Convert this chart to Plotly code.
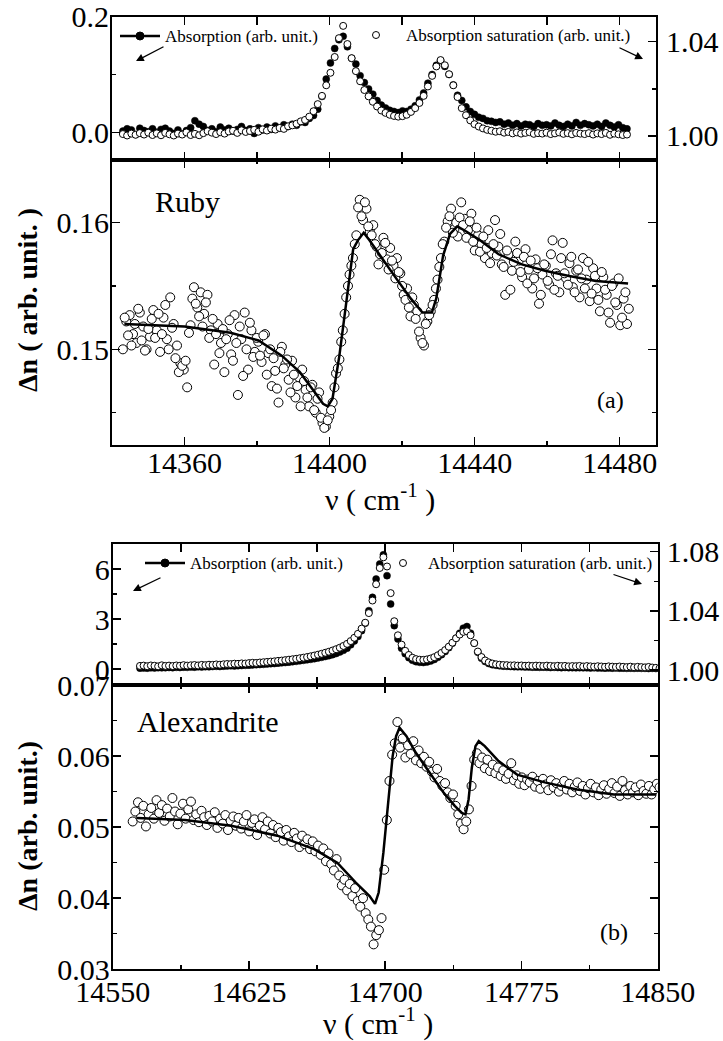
import numpy as np
import plotly.graph_objects as go

OFF = 0  # page body margin is removed by the post script below
W, H = 723, 1041
FONT = "Liberation Serif"

# ---------------- Panel (a) Ruby ----------------
# top: absorption (left axis) and absorption saturation (right axis)
nu_a_top = np.linspace(14343, 14482, 120)
abs_a = [0.002, 0.006, 0.004, -0.004, 0.007, 0.003, 0.001, 0.006, 0.000, 0.005,
         0.007, 0.002, -0.002, 0.004, -0.003, 0.003, 0.008, 0.020, 0.014, 0.010,
         0.003, 0.006, 0.001, 0.009, 0.004, 0.007, 0.002, 0.005, 0.010, 0.003,
         0.006, -0.002, 0.008, 0.004, 0.009, 0.005, 0.011, 0.007, 0.013, 0.010,
         0.014, 0.012, 0.018, 0.017, 0.024, 0.029, 0.040, 0.062, 0.092, 0.120,
         0.145, 0.160, 0.166, 0.148, 0.128, 0.118, 0.098, 0.086, 0.075, 0.066,
         0.055, 0.047, 0.042, 0.038, 0.036, 0.034, 0.037, 0.036, 0.040, 0.046,
         0.056, 0.068, 0.085, 0.100, 0.116, 0.124, 0.114, 0.100, 0.082, 0.064,
         0.055, 0.044, 0.036, 0.031, 0.026, 0.024, 0.020, 0.019, 0.017, 0.018,
         0.014, 0.016, 0.012, 0.015, 0.011, 0.014, 0.013, 0.010, 0.015, 0.012,
         0.013, 0.011, 0.016, 0.012, 0.010, 0.014, 0.011, 0.017, 0.012, 0.015,
         0.013, 0.011, 0.014, 0.010, 0.016, 0.012, 0.009, 0.013, 0.008, 0.006]
sat_a = [1.0008, 1.0002, 1.0010, 1.0005, 1.0012, 1.0006, 1.0014, 1.0004, 1.0011, 1.0003,
         1.0013, 1.0007, 1.0002, 1.0010, 1.0006, 1.0015, 1.0004, 1.0009, 1.0003, 1.0012,
         1.0020, 1.0014, 1.0008, 1.0016, 1.0010, 1.0019, 1.0022, 1.0013, 1.0024, 1.0017,
         1.0021, 1.0026, 1.0018, 1.0028, 1.0023, 1.0031, 1.0027, 1.0034, 1.0030, 1.0041,
         1.0045, 1.0052, 1.0062, 1.0068, 1.0082, 1.0105, 1.0135, 1.0170, 1.0215, 1.0268,
         1.0335, 1.0415, 1.0467, 1.0390, 1.0330, 1.0275, 1.0232, 1.0195, 1.0168, 1.0145,
         1.0125, 1.0108, 1.0098, 1.0090, 1.0085, 1.0082, 1.0084, 1.0090, 1.0102, 1.0118,
         1.0140, 1.0170, 1.0210, 1.0255, 1.0295, 1.0322, 1.0300, 1.0262, 1.0215, 1.0165,
         1.0118, 1.0088, 1.0066, 1.0050, 1.0040, 1.0032, 1.0026, 1.0022, 1.0018, 1.0020,
         1.0014, 1.0017, 1.0011, 1.0015, 1.0010, 1.0013, 1.0016, 1.0009, 1.0012, 1.0010,
         1.0014, 1.0008, 1.0011, 1.0015, 1.0009, 1.0012, 1.0007, 1.0013, 1.0010, 1.0008,
         1.0012, 1.0006, 1.0011, 1.0008, 1.0013, 1.0005, 1.0010, 1.0007, 1.0004, 1.0006]

# bottom: delta n data (two interleaved sample sets) and fit
nu_a = np.linspace(14343, 14482, 150)
dn_a = [0.1500, 0.1522, 0.1527, 0.1512, 0.1505, 0.1529, 0.1518, 0.1500, 0.1510, 0.1531,
        0.1515, 0.1498, 0.1525, 0.1508, 0.1541, 0.1520, 0.1503, 0.1489, 0.1484, 0.1470,
        0.1519, 0.1549, 0.1533, 0.1545, 0.1528, 0.1543, 0.1515, 0.1488, 0.1520, 0.1505,
        0.1482, 0.1512, 0.1496, 0.1527, 0.1464, 0.1508, 0.1529, 0.1484, 0.1515, 0.1498,
        0.1506, 0.1490, 0.1512, 0.1497, 0.1471, 0.1483, 0.1458, 0.1502, 0.1488, 0.1476,
        0.1491, 0.1462, 0.1478, 0.1484, 0.1468, 0.1455, 0.1472, 0.1450, 0.1466, 0.1442,
        0.1439, 0.1447, 0.1458, 0.1481, 0.1492, 0.1515, 0.1541, 0.1559, 0.1572, 0.1590,
        0.1618, 0.1602, 0.1611, 0.1593, 0.1598, 0.1581, 0.1575, 0.1588, 0.1571, 0.1580,
        0.1566, 0.1572, 0.1560, 0.1543, 0.1548, 0.1526, 0.1535, 0.1530, 0.1509, 0.1503,
        0.1522, 0.1530, 0.1539, 0.1555, 0.1572, 0.1585, 0.1601, 0.1611, 0.1595, 0.1589,
        0.1616, 0.1603, 0.1594, 0.1607, 0.1578, 0.1590, 0.1583, 0.1572, 0.1594, 0.1576,
        0.1602, 0.1581, 0.1567, 0.1543, 0.1575, 0.1562, 0.1585, 0.1570, 0.1557, 0.1579,
        0.1563, 0.1548, 0.1571, 0.1536, 0.1559, 0.1566, 0.1551, 0.1586, 0.1560, 0.1545,
        0.1584, 0.1556, 0.1568, 0.1549, 0.1562, 0.1541, 0.1572, 0.1555, 0.1538, 0.1564,
        0.1548, 0.1530, 0.1557, 0.1543, 0.1521, 0.1552, 0.1535, 0.1519, 0.1540, 0.1520]
nu_a2 = np.linspace(14343.5, 14482.5, 150)
dn_a2 = [0.1525, 0.1511, 0.1503, 0.1520, 0.1532, 0.1507, 0.1499, 0.1516, 0.1524, 0.1509,
         0.1528, 0.1512, 0.1535, 0.1500, 0.1517, 0.1493, 0.1482, 0.1487, 0.1491, 0.1513,
         0.1540, 0.1536, 0.1526, 0.1518, 0.1537, 0.1509, 0.1524, 0.1512, 0.1497, 0.1516,
         0.1508, 0.1523, 0.1491, 0.1505, 0.1518, 0.1479, 0.1500, 0.1521, 0.1494, 0.1509,
         0.1495, 0.1511, 0.1480, 0.1500, 0.1493, 0.1469, 0.1498, 0.1485, 0.1492, 0.1466,
         0.1480, 0.1471, 0.1455, 0.1475, 0.1462, 0.1470, 0.1452, 0.1461, 0.1446, 0.1438,
         0.1444, 0.1452, 0.1470, 0.1485, 0.1506, 0.1528, 0.1550, 0.1566, 0.1583, 0.1612,
         0.1605, 0.1616, 0.1597, 0.1590, 0.1583, 0.1567, 0.1576, 0.1584, 0.1563, 0.1570,
         0.1556, 0.1561, 0.1550, 0.1539, 0.1533, 0.1541, 0.1524, 0.1514, 0.1505, 0.1520,
         0.1527, 0.1535, 0.1548, 0.1565, 0.1583, 0.1596, 0.1605, 0.1592, 0.1600, 0.1604,
         0.1598, 0.1588, 0.1601, 0.1585, 0.1596, 0.1577, 0.1589, 0.1580, 0.1568, 0.1583,
         0.1574, 0.1591, 0.1565, 0.1578, 0.1547, 0.1569, 0.1576, 0.1561, 0.1573, 0.1552,
         0.1570, 0.1556, 0.1564, 0.1543, 0.1567, 0.1554, 0.1575, 0.1547, 0.1558, 0.1572,
         0.1560, 0.1551, 0.1573, 0.1545, 0.1563, 0.1556, 0.1548, 0.1569, 0.1544, 0.1558,
         0.1539, 0.1561, 0.1547, 0.1529, 0.1550, 0.1537, 0.1556, 0.1525, 0.1545, 0.1532]
fit_a_x = [14343.4, 14360.0, 14372.7, 14380.4, 14386.8, 14391.8, 14395.7, 14398.2, 14399.5,
           14400.8, 14402.7, 14404.6, 14406.5, 14407.8, 14409.4, 14411.0, 14414.8, 14418.6,
           14422.4, 14425.6, 14428.2, 14429.4, 14431.3, 14433.2, 14435.2, 14437.7, 14441.5,
           14446.6, 14453.0, 14459.4, 14465.7, 14473.4, 14482.3]
fit_a_y = [0.1520, 0.1518, 0.1513, 0.1507, 0.1495, 0.1482, 0.1467, 0.1457, 0.1455,
           0.1461, 0.1495, 0.1537, 0.1579, 0.1586, 0.1592, 0.1586, 0.1570, 0.1555,
           0.1540, 0.1529, 0.1529, 0.1540, 0.1574, 0.1591, 0.1597, 0.1593, 0.1586,
           0.1575, 0.1567, 0.1562, 0.1558, 0.1554, 0.1552]

# ---------------- Panel (b) Alexandrite ----------------
nu_b_top = np.linspace(14565, 14851, 144)
abs_b = [0.05, 0.06, 0.05, 0.07, 0.06, 0.08, 0.07, 0.08, 0.09, 0.08,
         0.10, 0.09, 0.11, 0.10, 0.12, 0.11, 0.13, 0.12, 0.14, 0.13,
         0.15, 0.16, 0.15, 0.17, 0.18, 0.19, 0.18, 0.20, 0.21, 0.22,
         0.23, 0.24, 0.26, 0.27, 0.28, 0.30, 0.32, 0.33, 0.35, 0.37,
         0.39, 0.41, 0.44, 0.46, 0.49, 0.52, 0.55, 0.58, 0.62, 0.66,
         0.70, 0.75, 0.80, 0.86, 0.93, 1.02, 1.12, 1.25, 1.45, 1.68,
         1.95, 2.30, 2.75, 3.50, 4.30, 5.40, 6.30, 6.85, 5.60, 3.90,
         2.60, 1.80, 1.25, 0.92, 0.68, 0.52, 0.44, 0.40, 0.39, 0.42,
         0.48, 0.57, 0.70, 0.86, 1.05, 1.28, 1.55, 1.85, 2.15, 2.45,
         2.55, 2.15, 1.55, 1.00, 0.65, 0.45, 0.33, 0.26, 0.22, 0.19,
         0.17, 0.16, 0.15, 0.14, 0.13, 0.13, 0.12, 0.12, 0.11, 0.11,
         0.10, 0.11, 0.10, 0.09, 0.10, 0.09, 0.08, 0.09, 0.08, 0.08,
         0.07, 0.08, 0.07, 0.07, 0.06, 0.07, 0.06, 0.06, 0.05, 0.06,
         0.05, 0.06, 0.05, 0.05, 0.04, 0.05, 0.04, 0.05, 0.04, 0.04,
         0.03, 0.04, 0.03, 0.03]
sat_b = [1.0028, 1.0030, 1.0026, 1.0031, 1.0029, 1.0025, 1.0032, 1.0028, 1.0030, 1.0027,
         1.0031, 1.0029, 1.0033, 1.0030, 1.0032, 1.0034, 1.0031, 1.0035, 1.0033, 1.0036,
         1.0035, 1.0038, 1.0036, 1.0039, 1.0041, 1.0040, 1.0043, 1.0042, 1.0045, 1.0044,
         1.0047, 1.0049, 1.0048, 1.0051, 1.0053, 1.0055, 1.0057, 1.0059, 1.0062, 1.0064,
         1.0067, 1.0070, 1.0073, 1.0076, 1.0080, 1.0084, 1.0088, 1.0093, 1.0098, 1.0104,
         1.0110, 1.0117, 1.0124, 1.0132, 1.0141, 1.0151, 1.0163, 1.0177, 1.0196, 1.0218,
         1.0245, 1.0280, 1.0320, 1.0385, 1.0470, 1.0580, 1.0690, 1.0762, 1.0700, 1.0520,
         1.0330, 1.0235, 1.0172, 1.0130, 1.0102, 1.0083, 1.0074, 1.0070, 1.0069, 1.0072,
         1.0078, 1.0087, 1.0100, 1.0116, 1.0135, 1.0158, 1.0185, 1.0215, 1.0240, 1.0258,
         1.0262, 1.0235, 1.0182, 1.0125, 1.0088, 1.0065, 1.0052, 1.0044, 1.0039, 1.0036,
         1.0034, 1.0033, 1.0031, 1.0032, 1.0030, 1.0031, 1.0029, 1.0030, 1.0028, 1.0030,
         1.0029, 1.0027, 1.0030, 1.0028, 1.0026, 1.0029, 1.0027, 1.0028, 1.0025, 1.0027,
         1.0026, 1.0028, 1.0024, 1.0027, 1.0025, 1.0023, 1.0026, 1.0024, 1.0022, 1.0025,
         1.0023, 1.0021, 1.0024, 1.0022, 1.0020, 1.0023, 1.0019, 1.0022, 1.0020, 1.0018,
         1.0021, 1.0017, 1.0015, 1.0012]

nu_b = np.linspace(14561, 14851, 200)
dn_b = [0.0508, 0.0522, 0.0535, 0.0513, 0.0530, 0.0501, 0.0518, 0.0527, 0.0512, 0.0538,
        0.0520, 0.0531, 0.0509, 0.0526, 0.0515, 0.0541, 0.0522, 0.0504, 0.0519, 0.0533,
        0.0512, 0.0525, 0.0536, 0.0510, 0.0518, 0.0507, 0.0523, 0.0514, 0.0503, 0.0516,
        0.0508, 0.0521, 0.0499, 0.0512, 0.0505, 0.0517, 0.0496, 0.0509, 0.0515, 0.0502,
        0.0513, 0.0498, 0.0508, 0.0517, 0.0494, 0.0506, 0.0511, 0.0489, 0.0502, 0.0514,
        0.0497, 0.0508, 0.0491, 0.0503, 0.0486, 0.0499, 0.0493, 0.0481, 0.0496, 0.0487,
        0.0479, 0.0492, 0.0484, 0.0472, 0.0488, 0.0476, 0.0483, 0.0469, 0.0480, 0.0466,
        0.0474, 0.0461, 0.0470, 0.0452, 0.0463, 0.0448, 0.0439, 0.0455, 0.0432, 0.0418,
        0.0426, 0.0411, 0.0420, 0.0403, 0.0414, 0.0396, 0.0388, 0.0400, 0.0379, 0.0370,
        0.0360, 0.0335, 0.0348, 0.0355, 0.0372, 0.0440, 0.0510, 0.0565, 0.0602, 0.0618,
        0.0648, 0.0612, 0.0625, 0.0598, 0.0615, 0.0603, 0.0621, 0.0594, 0.0608, 0.0590,
        0.0599, 0.0585, 0.0592, 0.0578, 0.0570, 0.0582, 0.0565, 0.0558, 0.0562, 0.0549,
        0.0541, 0.0546, 0.0530, 0.0518, 0.0505, 0.0497, 0.0508, 0.0525, 0.0558, 0.0595,
        0.0604, 0.0590, 0.0598, 0.0583, 0.0595, 0.0579, 0.0588, 0.0576, 0.0584, 0.0572,
        0.0580, 0.0568, 0.0575, 0.0590, 0.0566, 0.0573, 0.0561, 0.0570, 0.0559, 0.0567,
        0.0563, 0.0571, 0.0557, 0.0565, 0.0554, 0.0568, 0.0560, 0.0552, 0.0566, 0.0556,
        0.0562, 0.0550, 0.0558, 0.0565, 0.0553, 0.0561, 0.0549, 0.0557, 0.0563, 0.0551,
        0.0558, 0.0546, 0.0555, 0.0561, 0.0549, 0.0556, 0.0545, 0.0553, 0.0559, 0.0547,
        0.0554, 0.0562, 0.0548, 0.0557, 0.0544, 0.0565, 0.0552, 0.0546, 0.0558, 0.0549,
        0.0556, 0.0545, 0.0560, 0.0551, 0.0547, 0.0558, 0.0546, 0.0553, 0.0561, 0.0556]
fit_b_x = [14563.2, 14589.8, 14615.2, 14640.6, 14660.9, 14673.6, 14683.8, 14691.4, 14694.4,
           14696.4, 14699.0, 14701.5, 14704.1, 14706.0, 14707.9, 14711.7, 14716.8, 14724.4,
           14732.0, 14738.3, 14742.1, 14744.2, 14745.9, 14747.7, 14749.7, 14751.5, 14754.8,
           14762.4, 14772.6, 14787.8, 14805.6, 14825.9, 14849.0]
fit_b_y = [0.0513, 0.0510, 0.0502, 0.0488, 0.0469, 0.0450, 0.0422, 0.0403, 0.0392,
           0.0408, 0.0464, 0.0530, 0.0600, 0.0628, 0.0640, 0.0628, 0.0605, 0.0577,
           0.0549, 0.0530, 0.0520, 0.0518, 0.0539, 0.0584, 0.0614, 0.0621, 0.0614,
           0.0593, 0.0574, 0.0563, 0.0553, 0.0546, 0.0546]


def px(x):
    return (x - OFF) / W


def py(y):
    return 1 - (y - OFF) / H


fig = go.Figure()

filled = dict(symbol="circle", size=7, color="black", line=dict(color="black", width=0.5))
opened = dict(symbol="circle", size=7, color="white", line=dict(color="black", width=1))
opened_big = dict(symbol="circle", size=9, color="white", line=dict(color="black", width=1))

fig.add_trace(go.Scatter(x=nu_a_top, y=abs_a, mode="markers", marker=filled, xaxis="x", yaxis="y"))
fig.add_trace(go.Scatter(x=nu_a_top, y=sat_a, mode="markers", marker=opened, xaxis="x", yaxis="y2"))
fig.add_trace(go.Scatter(x=nu_a, y=dn_a, mode="markers", marker=opened_big, xaxis="x2", yaxis="y3"))
fig.add_trace(go.Scatter(x=nu_a2, y=dn_a2, mode="markers", marker=opened_big, xaxis="x2", yaxis="y3"))
fig.add_trace(go.Scatter(x=fit_a_x, y=fit_a_y, mode="lines", line=dict(color="black", width=2.5),
                         xaxis="x2", yaxis="y3"))
fig.add_trace(go.Scatter(x=nu_b_top, y=abs_b, mode="markers", marker=filled, xaxis="x3", yaxis="y4"))
fig.add_trace(go.Scatter(x=nu_b_top, y=sat_b, mode="markers", marker=opened, xaxis="x3", yaxis="y5"))
fig.add_trace(go.Scatter(x=nu_b, y=dn_b, mode="markers", marker=opened_big, xaxis="x4", yaxis="y6"))
fig.add_trace(go.Scatter(x=fit_b_x, y=fit_b_y, mode="lines", line=dict(color="black", width=2.5),
                         xaxis="x4", yaxis="y6"))

tickfont = dict(family=FONT, size=30, color="black")


def axis(**kw):
    base = dict(showline=True, linecolor="black", linewidth=2, ticks="inside", ticklen=8,
                tickwidth=1.5, tickcolor="black", showgrid=False, zeroline=False,
                tickfont=tickfont, ticklabelstandoff=0, automargin=False,
                ticklabeloverflow="allow")
    base.update(kw)
    return base


def minor(d, t0):
    return dict(dtick=d, tick0=t0, ticks="inside", ticklen=4, tickwidth=1.5, tickcolor="black",
                showgrid=False)


xa_dom = [px(112), px(656)]
xb_dom = [px(112.7), px(657.7)]

layout = dict(
    width=W, height=H, margin=dict(l=0, r=0, t=0, b=0, autoexpand=False),
    paper_bgcolor="white", plot_bgcolor="white", showlegend=False,
    font=dict(family=FONT, color="black"),
    # panel a top
    xaxis=axis(domain=xa_dom, anchor="y", range=[14340, 14490], tick0=14360, dtick=40,
               minor=minor(20, 14340), mirror="allticks", showticklabels=False, tickformat="d"),
    yaxis=axis(domain=[py(160), py(16.7)], anchor="x", range=[-0.048, 0.20001],
               tick0=0, dtick=0.2, tickformat=".1f", minor=minor(0.1, 0), ticklabelstandoff=-5),
    yaxis2=axis(overlaying="y", anchor="x", side="right", range=[0.9898, 1.0506],
                tick0=1.0, dtick=0.04, tickformat=".2f", minor=minor(0.02, 1.0), ticklabelstandoff=2),
    # panel a bottom
    xaxis2=axis(domain=xa_dom, anchor="y3", range=[14340, 14490], tick0=14360, dtick=40,
                minor=minor(20, 14340), mirror="allticks", ticklabelstandoff=-10, tickformat="d"),
    yaxis3=axis(domain=[py(445), py(160)], anchor="x2", range=[0.14245, 0.16494],
                tick0=0.15, dtick=0.01, tickformat=".2f", minor=minor(0.005, 0.15),
                mirror="allticks", ticklabelstandoff=-5),
    # panel b top
    xaxis3=axis(domain=xb_dom, anchor="y4", range=[14549.99, 14850.01], tick0=14550, dtick=75,
                minor=minor(37.5, 14550), mirror="allticks", showticklabels=False, tickformat="d"),
    yaxis4=axis(domain=[py(685), py(544)], anchor="x3", range=[-0.96, 7.5],
                tick0=0, dtick=3, minor=minor(1.5, 0), ticklabelstandoff=-5, tickformat="d"),
    yaxis5=axis(overlaying="y4", anchor="x3", side="right", range=[0.9899, 1.0852],
                tick0=1.0, dtick=0.04, tickformat=".2f", minor=minor(0.02, 1.0), ticklabelstandoff=1),
    # panel b bottom
    xaxis4=axis(domain=xb_dom, anchor="y6", range=[14549.99, 14850.01], tick0=14550, dtick=75,
                minor=minor(37.5, 14550), mirror="allticks", ticklabelstandoff=-5, tickformat="d"),
    yaxis6=axis(domain=[py(969.3), py(685)], anchor="x4", range=[0.02999, 0.07001],
                tick0=0.03, dtick=0.01, tickformat=".2f", minor=minor(0.005, 0.03),
                mirror="allticks", ticklabelstandoff=-5),
)
fig.update_layout(**layout)

ann = []
shapes = []


def text(x, y, s, size, xanchor="center", bold=False, angle=0):
    if bold:
        s = "<b>" + s + "</b>"
    ann.append(dict(x=px(x), y=py(y), xref="paper", yref="paper", text=s, showarrow=False,
                    xanchor=xanchor, yanchor="middle", textangle=angle,
                    font=dict(family=FONT, size=size, color="black")))


def arrow(tx, ty, hx, hy):
    ann.append(dict(x=px(hx), y=py(hy), xref="paper", yref="paper", ax=tx - hx, ay=ty - hy,
                    axref="pixel", ayref="pixel", text="", showarrow=True, arrowhead=2,
                    arrowsize=1.2, arrowwidth=1.3, arrowcolor="black"))


def legend_filled(x1, x2, y):
    shapes.append(dict(type="line", xref="paper", yref="paper", x0=px(x1), x1=px(x2),
                       y0=py(y), y1=py(y), line=dict(color="black", width=2.5)))
    cx = (x1 + x2) / 2
    shapes.append(dict(type="circle", xref="paper", yref="paper", x0=px(cx - 4), x1=px(cx + 4),
                       y0=py(y + 4), y1=py(y - 4), fillcolor="black", line=dict(color="black", width=1)))


def legend_open(cx, y):
    shapes.append(dict(type="circle", xref="paper", yref="paper", x0=px(cx - 3.5), x1=px(cx + 3.5),
                       y0=py(y + 3.5), y1=py(y - 3.5), fillcolor="white", line=dict(color="black", width=1)))


# panel (a) legend
legend_filled(120, 160, 36)
text(163, 36, "Absorption (arb. unit.)", 17, "left")
legend_open(376, 35)
text(404, 35, "Absorption saturation (arb. unit.)", 17, "left")
arrow(165, 46, 136, 61)
arrow(618, 47, 643, 59)

# panel (b) legend
legend_filled(145, 185, 563)
text(188, 563, "Absorption (arb. unit.)", 17, "left")
legend_open(403, 563)
text(426, 563, "Absorption saturation (arb. unit.)", 17, "left")
arrow(162, 577, 133, 591)
arrow(612, 574, 642, 584)

# labels
text(153, 201, "Ruby", 30, "left")
text(135, 721, "Alexandrite", 30, "left")
text(610, 400, "(a)", 24)
text(614, 932, "(b)", 24)
text(28, 300, "Δn ( arb. unit. )", 28, bold=True, angle=-90)
text(27, 826, "Δn (arb. unit.)", 28, bold=True, angle=-90)
text(380, 497, "ν ( cm<sup>-1</sup> )", 30)
text(378, 1021, "ν ( cm<sup>-1</sup> )", 30)

fig.update_layout(annotations=ann, shapes=shapes)
fig.write_html("out.html",
               config={"displayModeBar": False, "staticPlot": True},
               post_script="document.body.style.margin='0px';"
                           "document.body.style.overflow='hidden';")
